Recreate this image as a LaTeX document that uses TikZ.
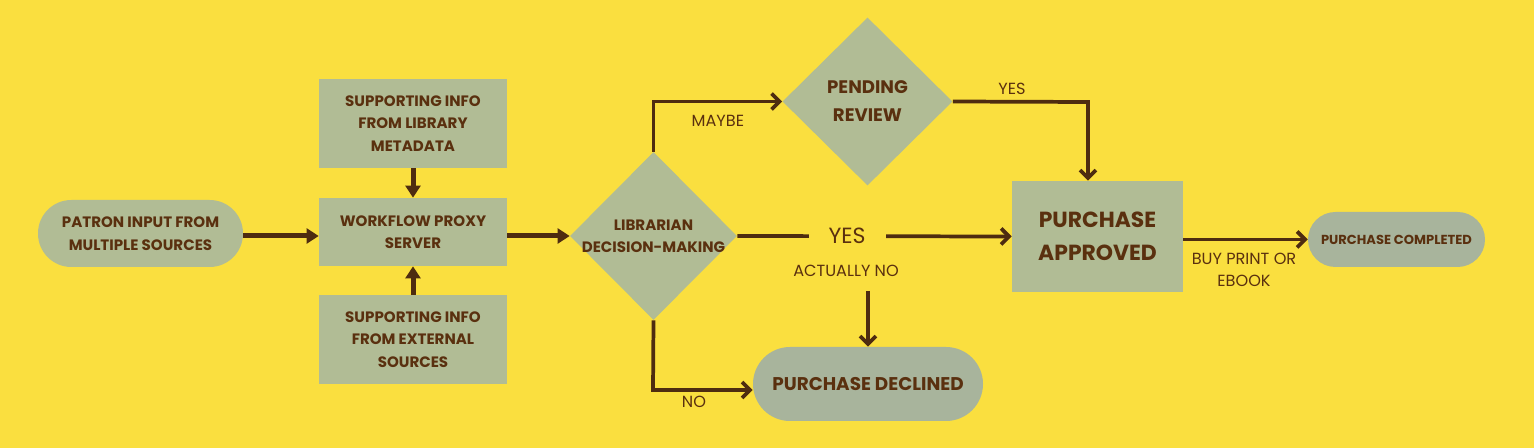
\documentclass[tikz,border=0pt]{standalone}
\usepackage{fontspec}
\setmainfont{Poppins}
\usepackage{tikz}
\usetikzlibrary{shapes.geometric,arrows.meta}
\definecolor{bgyellow}{HTML}{FADF3F}
\definecolor{sage}{HTML}{B1BC95}
\definecolor{sagegrey}{HTML}{A8B49C}
\definecolor{darkbrown}{HTML}{5A300F}
\definecolor{arrowbrown}{HTML}{4E2C10}

\begin{document}
\begin{tikzpicture}[x=0.75pt,y=0.75pt,yscale=-1,xscale=1,
    box/.style={rectangle, fill=sage, text=darkbrown, align=center, inner sep=0pt,
      font=\bfseries\fontsize{11.3}{16.8}\selectfont},
    pill/.style={box, rounded corners=#1},
    decision/.style={diamond, fill=sage, inner sep=0pt},
    lbl/.style={text=darkbrown, align=center, inner sep=0pt, font=\fontsize{12.1}{17}\selectfont},
    fat/.style={draw=arrowbrown, line width=3.75pt, -{Triangle[length=9pt,width=11pt]}},
    link/.style={draw=arrowbrown, line width=2.8pt, -{Straight Barb[length=6pt,width=12pt]}}]
        \fill[bgyellow] (0,0) rectangle (1534,448);
        \useasboundingbox (0,0) rectangle (1534,448);

        % left column
        \node[pill=25pt, minimum width=153.75pt, minimum height=50.25pt] (patron) at (140.5,233.5) {PATRON INPUT FROM\\MULTIPLE SOURCES};
        \node[box, minimum width=141pt, minimum height=66.75pt] (libmeta) at (413,123.5) {SUPPORTING INFO\\FROM LIBRARY\\METADATA};
        \node[box, minimum width=141pt, minimum height=51pt] (proxy) at (413,232) {WORKFLOW PROXY\\SERVER};
        \node[box, minimum width=141pt, minimum height=66.75pt] (external) at (413,339.5) {SUPPORTING INFO\\FROM EXTERNAL\\SOURCES};

        % decisions
        \node[decision, minimum width=125.25pt, minimum height=126pt,
          label={[box, fill=none]center:LIBRARIAN\\DECISION-MAKING}] (librarian) at (653.5,236) {};
        \node[decision, minimum width=127.5pt, minimum height=126pt,
          label={[box, fill=none, font=\bfseries\fontsize{13.6}{21}\selectfont]center:PENDING\\REVIEW}] (pending) at (867.5,101.5) {};

        % outcomes
        \node[box, minimum width=128.25pt, minimum height=83.25pt,
          font=\bfseries\fontsize{16.4}{25}\selectfont] (approved) at (1097.5,236.5) {PURCHASE\\APPROVED};
        \node[pill=27.75pt, fill=sagegrey, minimum width=172.5pt, minimum height=55.5pt,
          font=\bfseries\fontsize{13.8}{16}\selectfont] (declined) at (868,384) {PURCHASE DECLINED};
        \node[pill=20.6pt, fill=sagegrey, minimum width=132.75pt, minimum height=41.25pt,
          font=\bfseries\fontsize{9.8}{12}\selectfont] (completed) at (1396.5,239.5) {PURCHASE COMPLETED};

        \coordinate (ycorner) at (1088,102);
        \coordinate (nocorner) at (653,390);

        % connectors
        \draw[fat] (patron.east |- librarian.west) -- (proxy.west |- librarian.west);
        \draw[fat] (libmeta) -- (proxy);
        \draw[fat] (external) -- (proxy);
        \draw[fat] (proxy.east |- librarian.west) -- (librarian.west);
        \draw[link] (librarian.north) |- (pending.west) node[lbl, pos=0.75, below=9pt] (maybe) {MAYBE};
        \draw[link] (librarian.east) -- (approved.west)
          node[lbl, pos=0.40, fill=bgyellow, minimum width=57.75pt, minimum height=20pt,
            font=\fontsize{16.5}{17}\selectfont] (yes) {YES};
        \node[lbl] (actuallyno) at (846,271) {ACTUALLY NO};
        \draw[link] (declined.north |- 868,291) -- (declined.north);
        \draw[link] (librarian.south) -- (nocorner) -- (nocorner -| declined.west);
        \node[lbl] (no) at (694,402) {NO};
        \draw[link] (pending.east) -- (ycorner) -- (ycorner |- approved.north);
        \node[lbl] (yestop) at (1012,89) {YES};
        \draw[link] (approved.east |- completed.west) -- (completed.west);
        \node[lbl] (buy) at (1244,270) {BUY PRINT OR\\EBOOK};
\end{tikzpicture}
\end{document}
